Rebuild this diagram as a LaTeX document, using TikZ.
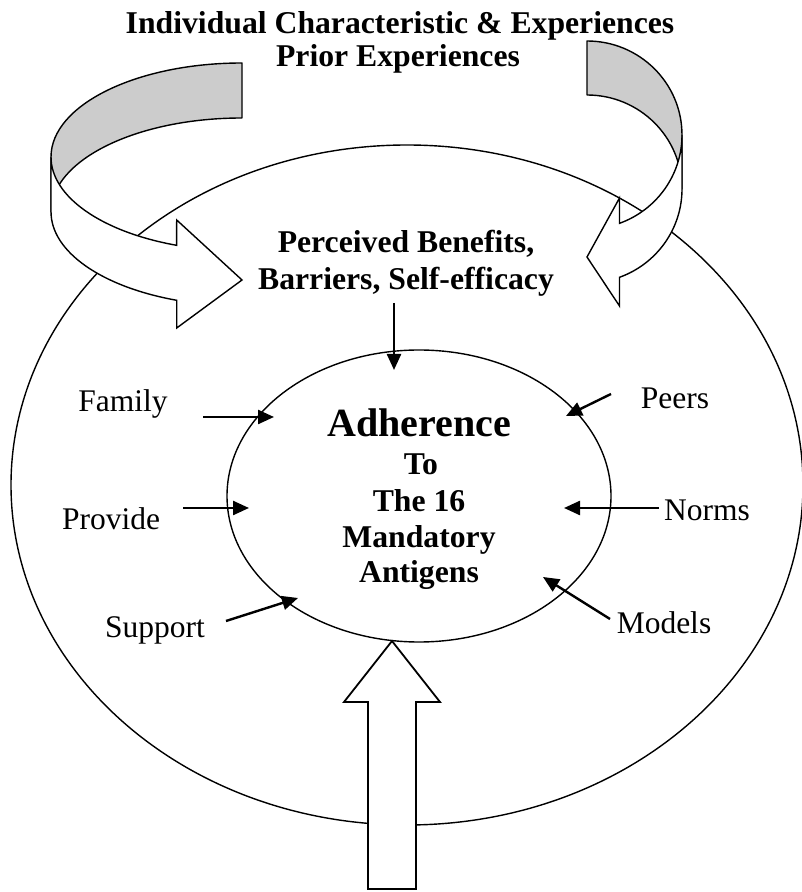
\documentclass[tikz,border=0pt]{standalone}
\usepackage{fontspec}
\setmainfont{Liberation Serif}
\usetikzlibrary{arrows.meta,positioning,shapes.geometric}
\definecolor{ribbongray}{gray}{0.8}

\begin{document}
\begin{tikzpicture}[x=1pt,y=1pt,
    txt/.style={inner sep=0pt, anchor=base, font=\fontsize{31.5}{36}\selectfont},
    hd/.style={inner sep=0pt, anchor=base, font=\fontsize{31.7}{36}\selectfont\bfseries},
    ring/.style={draw, ellipse, line width=1.4pt, inner sep=0pt},
    pointer/.style={line width=2.4pt, -{Triangle[length=16pt,width=14pt]}},
    back/.style={draw, fill=ribbongray, line width=1.4pt, line join=round},
    front/.style={draw, fill=white, line width=1.4pt, line join=miter},
    block/.style={draw, fill=white, line width=1.8pt, line join=miter}]

  \useasboundingbox (0,0) rectangle (801,892);

% Nodes
  \node[ring, minimum width=792pt, minimum height=680pt] (model) at (407,407) {};

  % left ribbon
  \draw[back] (242,829) arc[start angle=90,end angle=180,x radius=191,y radius=94]
    -- ++(0,-55) arc[start angle=180,end angle=90,x radius=191,y radius=94] -- cycle;
  \draw[front] (51,735) arc[start angle=180,end angle=250,x radius=191,y radius=94]
    -- (176.7,672) -- (242,612) -- (176.7,564) -- (176.7,591.7)
    arc[start angle=250,end angle=180,x radius=191,y radius=94] -- cycle;

  % right ribbon
  \draw[back] (587,851) arc[start angle=90,end angle=0,x radius=95,y radius=94]
    -- ++(0,-54) arc[start angle=0,end angle=90,x radius=95,y radius=94] -- cycle;
  \draw[front] (682,757) arc[start angle=0,end angle=-70,x radius=95,y radius=94]
    -- (619.5,694) -- (587,635) -- (619.5,586) -- (619.5,614.7)
    arc[start angle=-70,end angle=0,x radius=95,y radius=94] -- cycle;

  % bottom arrow
  \draw[block] (368,3) -- (368,190) -- (344,190) -- (392,251) -- (440,190)
    -- (416,190) -- (416,3) -- cycle;

  \node[ring, minimum width=384pt, minimum height=292pt] (adh) at (419,396) {};

  \node[hd]                    (title)    at (400,858) {Individual Characteristic \& Experiences};
  \node[hd]                    (prior)    at (398,825) {Prior Experiences};
  \node[hd]                    (benefits) at (406,639) {Perceived Benefits,};
  \node[hd]                    (barriers) at (406,602) {Barriers, Self-efficacy};
  \node[hd, font=\fontsize{40}{40}\selectfont\bfseries] (adhere) at (419,455) {Adherence};
  \node[hd]                    (to)       at (421,417) {To};
  \node[hd]                    (the16)    at (419,380) {The 16};
  \node[hd]                    (mandatory) at (419,344) {Mandatory};
  \node[hd]                    (antigens) at (419,309) {Antigens};

  \node[txt]                   (family)   at (123,480) {Family};
  \node[txt]                   (provide)  at (111,362) {Provide};
  \node[txt]                   (support)  at (155,254) {Support};
  \node[txt]                   (peers)    at (675,483) {Peers};
  \node[txt]                   (norms)    at (707,371) {Norms};
  \node[txt]                   (models)   at (664,258) {Models};

  \coordinate (percTail) at (394,589);  \coordinate (percHead) at (394,522);
  \coordinate (famTail)  at (203,475);  \coordinate (famHead)  at (274,475);
  \coordinate (provTail) at (183,384);  \coordinate (provHead) at (249,384);
  \coordinate (suppTail) at (226,271);  \coordinate (suppHead) at (298,294);
  \coordinate (peerTail) at (611,498);  \coordinate (peerHead) at (566,476);
  \coordinate (normTail) at (659,384);  \coordinate (normHead) at (564,384);
  \coordinate (modTail)  at (610,273);  \coordinate (modHead)  at (543,315);

% Edges
  \draw[pointer] (percTail) -- (percHead);
  \draw[pointer] (famTail)  -- (famHead);
  \draw[pointer] (provTail) -- (provHead);
  \draw[pointer] (suppTail) -- (suppHead);
  \draw[pointer] (peerTail) -- (peerHead);
  \draw[pointer] (normTail) -- (normHead);
  \draw[pointer] (modTail)  -- (modHead);

\end{tikzpicture}
\end{document}
